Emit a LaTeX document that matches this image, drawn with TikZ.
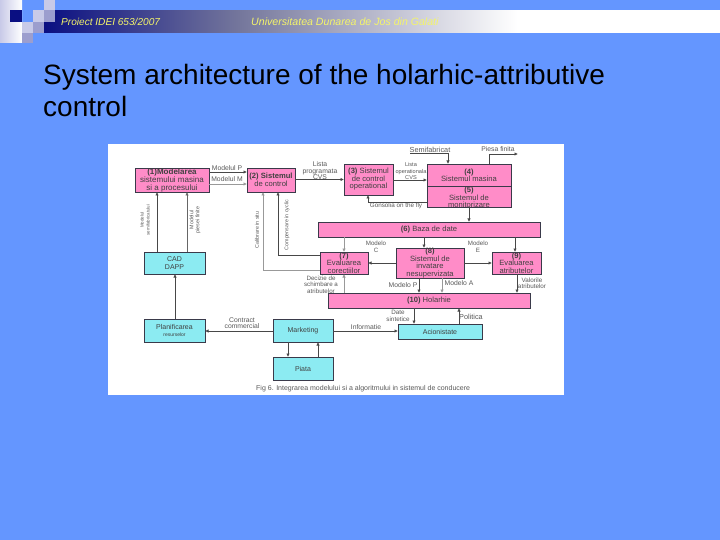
\documentclass[tikz,border=0pt]{standalone}
\usepackage{fontspec}
\setmainfont{Liberation Sans}
\usetikzlibrary{arrows.meta}
\definecolor{slidebg}{HTML}{6496FF}
\definecolor{navy}{HTML}{0A0F82}
\definecolor{barmid}{HTML}{75779C}
\definecolor{lav}{HTML}{C8CAE8}
\definecolor{lavd}{HTML}{9C9ECE}
\definecolor{pinkbox}{HTML}{FF8CC8}
\definecolor{cyanbox}{HTML}{8CEBF2}
\definecolor{edgedk}{HTML}{3A3A4A}
\definecolor{headtxt}{HTML}{F4F46A}
\pgfdeclarehorizontalshading{barshade}{100bp}{color(0bp)=(navy); color(25bp)=(navy); color(39.5bp)=(barmid); color(60bp)=(white); color(100bp)=(white)}
\tikzset{
 x=1pt,y=-1pt,
 pk/.style={draw=edgedk,line width=0.9pt,fill=pinkbox,inner sep=0pt,outer sep=0pt,align=center,font=\fontsize{7.6}{7.5}\selectfont,text=black!75},
 cy/.style={draw=edgedk,line width=0.9pt,fill=cyanbox,inner sep=0pt,outer sep=0pt,align=center,font=\fontsize{7}{7.5}\selectfont,text=black!75},
 wire/.style={draw=black!72,line width=0.9pt,-{Latex[length=3.5pt,width=3.5pt]}},
 thin wire/.style={draw=black!40,line width=0.6pt,-{Latex[length=3.5pt,width=3.5pt]}},
 lbl/.style={inner sep=0pt,align=center,font=\fontsize{6.8}{6.5}\selectfont,text=black!65},
 rot/.style={lbl,rotate=90,font=\fontsize{5.3}{6}\selectfont},
 headline/.style={inner sep=0pt,anchor=west,font=\itshape,text=headtxt},
}
\begin{document}
\begin{tikzpicture}
\useasboundingbox (0,0) rectangle (720,540);
\fill[slidebg] (0,0) rectangle (720,540);
% header bar
\shade[shading=barshade] (44,10.5) rectangle (720,33);
% header ornament
\fill[slidebg] (22,10) rectangle (33,22);
\shade[left color=lav,right color=white] (0,0) rectangle (22,43);
\fill[navy] (10,10) rectangle (22,22);
\fill[lav] (44,0) rectangle (55,10);
\fill[lav] (33,10) rectangle (44,22);
\fill[lavd] (44,10) rectangle (55,22);
\fill[lav] (22,22) rectangle (33,33);
\fill[lavd] (33,22) rectangle (44,33);
\fill[lavd] (22,33) rectangle (33,43);
\node[headline,font=\fontsize{10.1}{11}\selectfont\itshape] (h1) at (61,21.5) {Proiect IDEI 653/2007};
\node[headline,font=\fontsize{10.6}{11}\selectfont\itshape] (h2) at (251,21.5) {Universitatea Dunarea de Jos din Galati};
% title
\node[inner sep=0pt,anchor=north west,align=left,font=\fontsize{28}{32}\selectfont,text=black] (title) at (43,64) {System architecture of the holarhic-attributive\\control};
% image
\fill[white] (108,144) rectangle (564,395);
% boxes
\node[pk,minimum width=74pt,minimum height=24pt,font=\fontsize{8}{8}\selectfont] (b1) at (172,180) {\textbf{(1)Modelarea}\\sistemului masina\\si a procesului};
\node[pk,minimum width=48pt,minimum height=24pt] (b2) at (271,180) {\textbf{(2) Sistemul}\\de control};
\node[pk,minimum width=49pt,minimum height=31pt] (b3) at (368.5,179.5) {\textbf{(3)} Sistemul\\de control\\operational};
\node[pk,minimum width=84pt,minimum height=23pt] (b4) at (469,175.5) {\textbf{(4)}\\Sistemul masina};
\node[pk,minimum width=84pt,minimum height=20pt,font=\fontsize{7.6}{6.8}\selectfont] (b5) at (469,197) {\textbf{(5)}\\Sistemul de\\monitorizare};
\node[pk,minimum width=222pt,minimum height=15pt] (b6) at (429,229.5) {\textbf{(6)} Baza de date};
\node[pk,minimum width=48pt,minimum height=22pt] (b7) at (344,263) {\textbf{(7)}\\Evaluarea\\corectiilor};
\node[pk,minimum width=68pt,minimum height=30pt] (b8) at (430,263) {\textbf{(8)}\\Sistemul de\\invatare\\nesupervizata};
\node[pk,minimum width=49pt,minimum height=22pt] (b9) at (516.5,263) {\textbf{(9)}\\Evaluarea\\atributelor};
\node[pk,minimum width=202pt,minimum height=15pt] (b10) at (429,300.5) {\textbf{(10)} Holarhie};
\node[cy,minimum width=61pt,minimum height=22pt] (cad) at (174.5,263) {CAD\\DAPP};
\node[cy,minimum width=61pt,minimum height=23pt] (plan) at (174.5,330.5) {Planificarea\\{\fontsize{5}{5}\selectfont resurselor}};
\node[cy,minimum width=60pt,minimum height=23pt] (mkt) at (303,330.5) {Marketing};
\node[cy,minimum width=60pt,minimum height=23pt] (piata) at (303,368.5) {Piata};
\node[cy,minimum width=84pt,minimum height=15pt] (adm) at (440,331.5) {Acionistate};
% free ends
\coordinate (semi) at (410,153);
\coordinate (piesa) at (518,154);
% connectors
\draw[wire] (b1.east |- 0,172) -- (b2.west |- 0,172);
\draw[thin wire] (b1.east |- 0,184) -- (b2.west |- 0,184);
\draw[wire] (b2.east |- 0,179.5) -- (b3.west |- 0,179.5);
\draw[wire] (b3.east |- 0,180) -- (b4.west |- 0,180);
\draw[wire] (b5.west |- 0,202) -- (368,202) -- (b3.south -| 368,0);
\draw[wire] (semi) -- (448,153) -- (b4.north -| 448,0);
\draw[wire] (b4.north -| 489,0) -- (489,154) -- (piesa);
\draw[wire] (b5.south -| 469,0) -- (b6.north -| 469,0);
\draw[thin wire] (b6.south -| 344,0) -- (b7.north -| 344,0);
\draw[wire] (b6.south -| 424,0) -- (b8.north -| 424,0);
\draw[wire] (b6.south -| 515,0) -- (b9.north -| 515,0);
\draw[wire] (b8.west |- 0,263) -- (b7.east |- 0,263);
\draw[wire] (b8.east |- 0,263) -- (b9.west |- 0,263);
\draw[thin wire] (b10.north -| 344,0) -- (b7.south -| 344,0);
\draw[wire] (b8.south -| 419,0) -- (b10.north -| 419,0);
\draw[thin wire] (b8.south -| 442,0) -- (b10.north -| 442,0);
\draw[wire] (b9.south -| 517,0) -- (b10.north -| 517,0);
\draw[wire] (b10.south -| 414,0) -- (adm.north -| 414,0);
\draw[wire] (adm.north -| 459,0) -- (b10.south -| 459,0);
\draw[wire] (mkt.east |- 0,331) -- (adm.west |- 0,331);
\draw[wire] (mkt.west |- 0,331) -- (plan.east |- 0,331);
\draw[wire] (plan.north -| 175,0) -- (cad.south -| 175,0);
\draw[wire] (cad.north -| 157,0) -- (b1.south -| 157,0);
\draw[thin wire,draw=black!60] (cad.north -| 187,0) -- (b1.south -| 187,0);
\draw[thin wire] (b7.west |- 0,270) -- (263,270) -- (b2.south -| 263,0);
\draw[wire] (b7.west |- 0,255) -- (278,255) -- (b2.south -| 278,0);
\draw[wire] (mkt.south -| 288,0) -- (piata.north -| 288,0);
\draw[wire] (piata.north -| 318,0) -- (mkt.south -| 318,0);
% labels
\node[lbl] (l1) at (227,168) {Modelul P};
\node[lbl] (l2) at (227,179.5) {Modelul M};
\node[lbl] (l3) at (320,171) {Lista\\programata\\CVS};
\node[lbl,font=\fontsize{5.6}{6.2}\selectfont] (l4) at (411,171) {Lista\\operationala\\CVS};
\node[lbl,font=\fontsize{6.3}{6}\selectfont] (l5) at (396,205.5) {Gonsolia on the fly};
\node[lbl,font=\fontsize{7.3}{6}\selectfont] (l6) at (430,149.5) {Semifabricat};
\node[lbl] (l7) at (498,149.5) {Piesa finita};
\node[lbl,font=\fontsize{6.2}{6.5}\selectfont] (l8) at (376,247) {Modelo\\C};
\node[lbl,font=\fontsize{6.2}{6.5}\selectfont] (l9) at (478,247) {Modelo\\E};
\node[lbl,font=\fontsize{6.2}{6.5}\selectfont] (l10) at (321,284.5) {Decizie de\\schimbare a\\atributelor};
\node[lbl] (l11) at (403,285) {Modelo P};
\node[lbl] (l12) at (459,283) {Modelo A};
\node[lbl,font=\fontsize{6.3}{6.5}\selectfont] (l13) at (532,283) {Valorile\\atributelor};
\node[lbl,font=\fontsize{6.3}{6.5}\selectfont] (l14) at (398,316) {Date\\sintetice};
\node[lbl,font=\fontsize{7.3}{6}\selectfont] (l15) at (471,317) {Politica};
\node[lbl] (l16) at (366,327) {Informatie};
\node[lbl] (l17) at (242,323) {Contract\\commercial};
\node[rot,font=\fontsize{4.4}{6}\selectfont] (l18) at (145,220) {Modelul\\semifabricatului};
\node[rot] (l19) at (195,220) {Modelul\\piesei finite};
\node[rot] (l20) at (257,230) {Calibrare in situ};
\node[rot] (l21) at (287,225) {Compensare in cyclic};
\node[lbl,anchor=west,font=\fontsize{7}{7}\selectfont] (cap) at (256,389) {Fig 6. Integrarea modelului si a algoritmului in sistemul de conducere};
\end{tikzpicture}
\end{document}
